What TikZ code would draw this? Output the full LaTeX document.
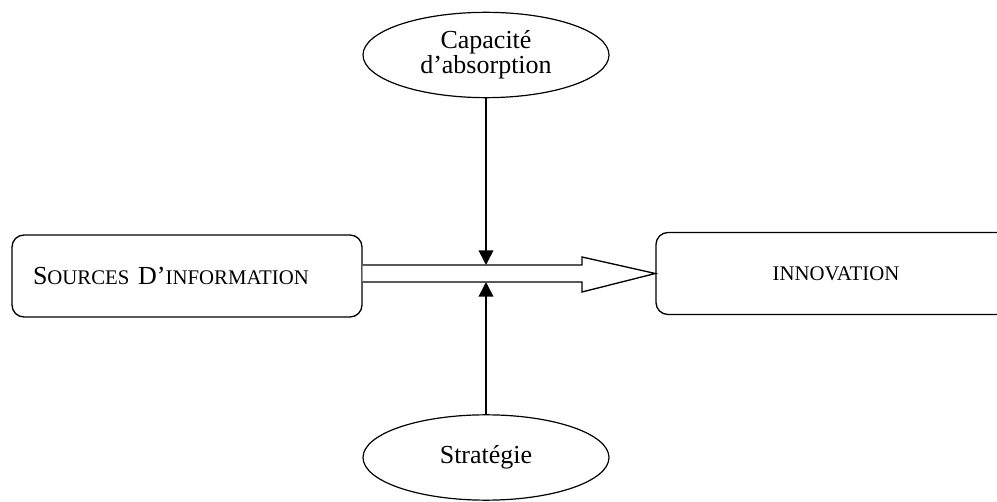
\documentclass[tikz,border=0pt]{standalone}
\usepackage{fontspec}
\setmainfont{Liberation Serif}
\usetikzlibrary{shapes.geometric,arrows.meta}
\newcommand\petitcap[1]{{\fontsize{15.6pt}{19pt}\selectfont #1}}
\tikzset{
  boite/.style={draw, line width=1pt, rounded corners=9pt, minimum height=61.5pt},
  bulle/.style={draw, ellipse, line width=0.9pt, minimum width=184.5pt, minimum height=64pt, inner sep=0pt, align=center},
  fleche/.style={line width=1.2pt, -{Triangle[width=11pt,length=11pt]}}
}
\begin{document}
\begin{tikzpicture}[x=0.75pt,y=-0.75pt,font=\fontsize{19.5pt}{17pt}\selectfont]
\useasboundingbox (0,0) rectangle (997,502);
\clip (0,0) rectangle (997,502);

\node[boite, minimum width=262.5pt, text width=231pt, inner xsep=15.75pt, align=left] (src) at (187,276) {S\petitcap{OURCES} D’\petitcap{INFORMATION}};
\node[boite, minimum width=270pt] (innov) at (836,273.5) {\petitcap{INNOVATION}\hspace{7.5pt}};

\node[bulle] (absorb) at (486,55) {Capacité\\d’absorption};
\node[bulle] (strat) at (486,457.5) {Stratégie};

% large fleche
\coordinate (pointe) at (innov.west);
\draw[line width=1pt, fill=white] (src.east |- 0,265) -- (582,265) -- (582,257) -- (pointe)
  -- (582,292) -- (582,282) -- (src.east |- 0,282);

\draw[fleche] (absorb.south) -- (absorb.south |- 0,265);
\draw[fleche] (strat.north) -- (strat.north |- 0,282);
\end{tikzpicture}
\end{document}
